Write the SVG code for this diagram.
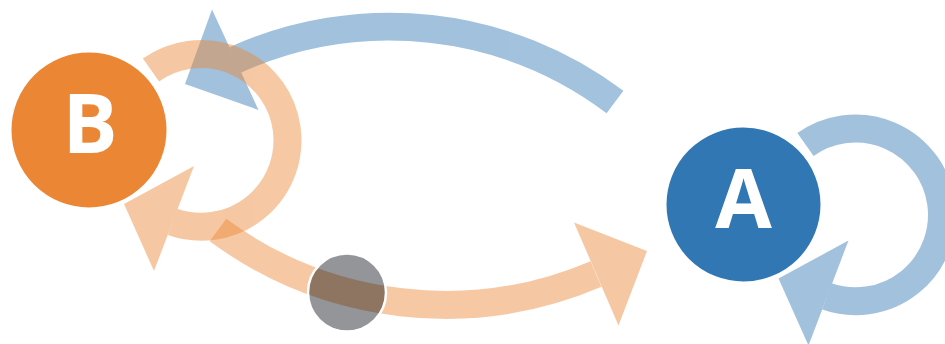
<svg xmlns="http://www.w3.org/2000/svg" width="945" height="344" viewBox="0 0 945 344">
  <style>
    .edge-line { fill: none; stroke-width: 28; stroke-linecap: butt; }
    .blue .edge-line { stroke: #3177B3; }
    .blue polygon { fill: #3177B3; }
    .orange .edge-line { stroke: #EB8634; }
    .orange polygon { fill: #EB8634; }
    .edge { opacity: 0.45; }
    .node-circle { stroke: #ffffff; stroke-width: 3; }
    .label { font-family: "Open Sans", "Liberation Sans", sans-serif; font-weight: 700; font-size: 82px; fill: #ffffff; text-anchor: middle; }
  </style>
  <rect x="0" y="0" width="945" height="344" fill="#ffffff"/>
  <g id="connectors">
    <g id="edge-A-B" class="edge blue">
      <path class="edge-line" d="M615,102 A375,375 0 0 0 235,60"/>
      <polygon points="212,9.5 258.5,110 185,84"/>
    </g>
    <g id="edge-A-A" class="edge blue" transform="translate(654.5,74.5)">
      <path class="edge-line" d="M151,70 A86.4,86.4 0 1 1 172.4,221.9"/>
      <polygon points="194,166 154,271 124,204"/>
    </g>
    <g id="edge-B-A" class="edge orange">
      <path class="edge-line" d="M218,230 A383,383 0 0 0 596,274"/>
      <polygon points="574,222.5 618.5,325.5 647,251"/>
    </g>
    <g id="edge-B-B" class="edge orange">
      <path class="edge-line" d="M151,70 A86.4,86.4 0 1 1 172.4,221.9"/>
      <polygon points="194,166 154,271 124,204"/>
    </g>
  </g>
  <g id="token">
    <circle cx="347" cy="292.5" r="38.5" fill="#939598" style="mix-blend-mode: multiply"/>
    <circle cx="347" cy="292.5" r="39" fill="none" stroke="#ffffff" stroke-width="2.5"/>
  </g>
  <g id="node-B">
    <circle class="node-circle" cx="89" cy="130" r="79" fill="#EB8634"/>
    <text class="label" x="90" y="152.5">B</text>
  </g>
  <g id="node-A">
    <circle class="node-circle" cx="743.5" cy="204.5" r="78.5" fill="#3177B3"/>
    <text class="label" x="743.5" y="228">A</text>
  </g>
</svg>
